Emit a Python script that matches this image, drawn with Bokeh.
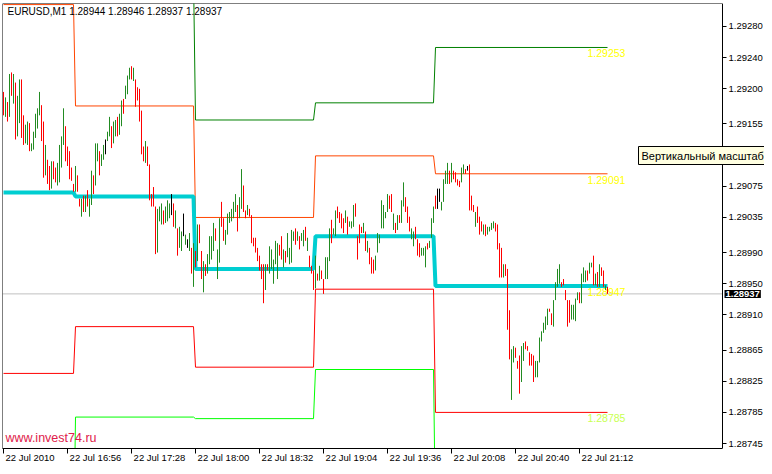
from bokeh.plotting import figure
from bokeh.models import (Range1d, FixedTicker, NumeralTickFormatter, Span, Label, LinearAxis)
from bokeh.core.properties import value
from bokeh.embed import file_html
from bokeh.resources import INLINE

# ---------------- data ----------------
symbol = "EURUSD,M1"
last_ohlc = [1.28944, 1.28946, 1.28937, 1.28937]
bid = 1.28937

# one-minute bars from 22 Jul 2010 16:24 (bar index = minutes since 16:24)
high = [
    1.29196, 1.29189, 1.29183, 1.29219, 1.29221, 1.29219, 1.29208, 1.29191, 1.29212, 1.29212,
    1.29166, 1.29154, 1.29158, 1.29156, 1.29130, 1.29145, 1.29168, 1.29175, 1.29196, 1.29179,
    1.29158, 1.29128, 1.29109, 1.29101, 1.29107, 1.29107, 1.29099, 1.29105, 1.29128, 1.29139,
    1.29175, 1.29152, 1.29126, 1.29120, 1.29099, 1.29078, 1.29101, 1.29089, 1.29059, 1.29059,
    1.29063, 1.29063, 1.29070, 1.29059, 1.29095, 1.29089, 1.29130, 1.29130, 1.29120, 1.29116,
    1.29128, 1.29135, 1.29145, 1.29164, 1.29152, 1.29158, 1.29160, 1.29164, 1.29168, 1.29185,
    1.29187, 1.29204, 1.29217, 1.29227, 1.29229, 1.29227, 1.29212, 1.29202, 1.29200, 1.29172,
    1.29126, 1.29133, 1.29126, 1.29103, 1.29065, 1.29074, 1.29049, 1.29046, 1.29049, 1.29053,
    1.29044, 1.29049, 1.29057, 1.29053, 1.29065, 1.29053, 1.29044, 1.29021, 1.29023, 1.29017,
    1.29040, 1.29013, 1.29007, 1.29015, 1.28996, 1.29002, 1.28992, 1.29026, 1.29026, 1.28992,
    1.28979, 1.28975, 1.28988, 1.29011, 1.29011, 1.29028, 1.29021, 1.28994, 1.29034, 1.29055,
    1.29034, 1.29019, 1.29040, 1.29042, 1.29046, 1.29055, 1.29065, 1.29051, 1.29061, 1.29097,
    1.29076, 1.29044, 1.29051, 1.29046, 1.29038, 1.29009, 1.29009, 1.28996, 1.28986, 1.28975,
    1.28975, 1.28975, 1.28975, 1.28998, 1.28994, 1.28981, 1.29005, 1.29002, 1.29000, 1.29011,
    1.28994, 1.28992, 1.29015, 1.28996, 1.29019, 1.29017, 1.29021, 1.29017, 1.29011, 1.29015,
    1.29019, 1.29023, 1.29009, 1.28986, 1.28973, 1.28967, 1.28986, 1.28963, 1.28973, 1.28967,
    1.28956, 1.28984, 1.28984, 1.29021, 1.29032, 1.29021, 1.29044, 1.29049, 1.29042, 1.29040,
    1.29034, 1.29044, 1.29036, 1.29030, 1.29030, 1.29051, 1.29053, 1.29011, 1.29026, 1.29023,
    1.29028, 1.29017, 1.29005, 1.28996, 1.28984, 1.28981, 1.28986, 1.29015, 1.29013, 1.29057,
    1.29051, 1.29042, 1.29065, 1.29063, 1.29065, 1.29040, 1.29028, 1.29038, 1.29038, 1.29057,
    1.29080, 1.29061, 1.29049, 1.29036, 1.29021, 1.29017, 1.29023, 1.29007, 1.29002, 1.28996,
    1.28996, 1.28998, 1.29002, 1.29005, 1.29034, 1.29049, 1.29063, 1.29072, 1.29072, 1.29055,
    1.29084, 1.29095, 1.29105, 1.29095, 1.29105, 1.29095, 1.29093, 1.29084, 1.29082, 1.29099,
    1.29103, 1.29097, 1.29101, 1.29103, 1.29063, 1.29051, 1.29042, 1.29049, 1.29036, 1.29030,
    1.29026, 1.29026, 1.29023, 1.29023, 1.29028, 1.29030, 1.29028, 1.29026, 1.29002, 1.28996,
    1.28975, 1.28975, 1.28969, 1.28916, 1.28866, 1.28870, 1.28868, 1.28851, 1.28858, 1.28870,
    1.28874, 1.28876, 1.28870, 1.28862, 1.28860, 1.28858, 1.28851, 1.28851, 1.28881, 1.28889,
    1.28900, 1.28908, 1.28918, 1.28918, 1.28912, 1.28929, 1.28952, 1.28969, 1.28975, 1.28952,
    1.28956, 1.28942, 1.28929, 1.28929, 1.28923, 1.28923, 1.28931, 1.28939, 1.28939, 1.28963,
    1.28971, 1.28967, 1.28967, 1.28977, 1.28977, 1.28986, 1.28963, 1.28965, 1.28975, 1.28971,
    1.28967, 1.28948, 1.28946,
]
low = [
    1.29166, 1.29164, 1.29158, 1.29164, 1.29191, 1.29181, 1.29135, 1.29139, 1.29156, 1.29137,
    1.29128, 1.29130, 1.29128, 1.29120, 1.29120, 1.29122, 1.29137, 1.29149, 1.29166, 1.29133,
    1.29086, 1.29089, 1.29078, 1.29070, 1.29072, 1.29084, 1.29080, 1.29076, 1.29080, 1.29099,
    1.29128, 1.29107, 1.29101, 1.29084, 1.29082, 1.29068, 1.29068, 1.29068, 1.29049, 1.29036,
    1.29042, 1.29042, 1.29049, 1.29036, 1.29051, 1.29065, 1.29076, 1.29107, 1.29089, 1.29101,
    1.29109, 1.29116, 1.29133, 1.29139, 1.29124, 1.29130, 1.29139, 1.29139, 1.29141, 1.29152,
    1.29168, 1.29187, 1.29193, 1.29212, 1.29212, 1.29210, 1.29177, 1.29185, 1.29158, 1.29116,
    1.29107, 1.29105, 1.29101, 1.29057, 1.29049, 1.29049, 1.28988, 1.28990, 1.29030, 1.29026,
    1.29026, 1.29028, 1.29030, 1.29034, 1.29038, 1.29023, 1.29021, 1.28986, 1.28996, 1.28992,
    1.29011, 1.29000, 1.28996, 1.28992, 1.28963, 1.28946, 1.28971, 1.28979, 1.29002, 1.28956,
    1.28939, 1.28960, 1.28963, 1.28975, 1.28981, 1.28992, 1.29005, 1.28956, 1.28977, 1.29023,
    1.29005, 1.29000, 1.29013, 1.29028, 1.29030, 1.29034, 1.29042, 1.29017, 1.29034, 1.29046,
    1.29042, 1.29034, 1.29038, 1.29036, 1.29002, 1.28998, 1.28990, 1.28979, 1.28967, 1.28956,
    1.28925, 1.28942, 1.28967, 1.28963, 1.28969, 1.28950, 1.28975, 1.28956, 1.28986, 1.28981,
    1.28971, 1.28977, 1.28984, 1.28975, 1.28977, 1.29005, 1.29000, 1.29005, 1.28994, 1.29005,
    1.28998, 1.29005, 1.28992, 1.28971, 1.28963, 1.28942, 1.28944, 1.28954, 1.28954, 1.28956,
    1.28937, 1.28956, 1.28956, 1.28979, 1.29002, 1.29013, 1.29011, 1.29034, 1.29028, 1.29021,
    1.29015, 1.29028, 1.29013, 1.29023, 1.29021, 1.29023, 1.29036, 1.28981, 1.29002, 1.29015,
    1.29015, 1.28992, 1.28990, 1.28975, 1.28963, 1.28963, 1.28967, 1.28990, 1.29002, 1.29021,
    1.29021, 1.29034, 1.29042, 1.29046, 1.29042, 1.29019, 1.29015, 1.29019, 1.29028, 1.29028,
    1.29049, 1.29042, 1.29028, 1.29017, 1.29007, 1.28998, 1.29007, 1.28986, 1.28984, 1.28986,
    1.28986, 1.28971, 1.28994, 1.28996, 1.29009, 1.29028, 1.29046, 1.29046, 1.29055, 1.29044,
    1.29055, 1.29078, 1.29078, 1.29078, 1.29080, 1.29084, 1.29080, 1.29076, 1.29074, 1.29080,
    1.29091, 1.29091, 1.29095, 1.29044, 1.29044, 1.29042, 1.29023, 1.29028, 1.29013, 1.29017,
    1.29013, 1.29011, 1.29013, 1.29017, 1.29019, 1.29021, 1.29017, 1.28994, 1.28958, 1.28958,
    1.28958, 1.28960, 1.28891, 1.28853, 1.28801, 1.28849, 1.28855, 1.28841, 1.28809, 1.28824,
    1.28851, 1.28866, 1.28864, 1.28845, 1.28845, 1.28824, 1.28830, 1.28830, 1.28849, 1.28876,
    1.28887, 1.28891, 1.28897, 1.28914, 1.28897, 1.28895, 1.28929, 1.28946, 1.28950, 1.28946,
    1.28948, 1.28929, 1.28895, 1.28900, 1.28904, 1.28904, 1.28902, 1.28929, 1.28925, 1.28925,
    1.28952, 1.28952, 1.28954, 1.28963, 1.28971, 1.28948, 1.28948, 1.28946, 1.28946, 1.28960,
    1.28946, 1.28942, 1.28937,
]
# u = up bar, d = down bar, n = unchanged
direction = "".join([
    "dudududuud", "duuduuuuud", "duddudduuu", "uddddduddu", "duduuduudu",
    "unuuduuduu", "duuududddd", "duddddduuu", "duuunduduu", "nunudududd",
    "uduuuuduud", "duuuuuuduu", "dduddddddd", "duduuuuudd", "uduuuududu",
    "ududddudud", "duuuduuddd", "duduuudddd", "ududdduuuu", "uuuddududu",
    "uddduudddu", "uuduuudnnu", "uuududdddu", "udnddduddd", "uduuuudddd",
    "uddduudddu", "uddddduuuu", "uuudduuuud", "dddduuuudu", "uuduududud",
    "dud",
])

# hourly pivot levels (bar index where each hour begins: 16:24, 17:00, 18:00, 19:00, 20:00)
hour_start = [0, 36, 96, 156, 216]
pivot = [1.29067, 1.29062, 1.28969, 1.29011, 1.28947]
r1 = [1.29308, 1.29178, 1.29035, 1.29114, 1.29091]
r2 = [1.29540, 1.29345, 1.29160, 1.29182, 1.29253]
s1 = [1.28835, 1.28895, 1.28843, 1.28943, 1.28785]
s2 = [1.28594, 1.28779, 1.28777, 1.28840, 1.28641]

time_ticks = [0, 32, 64, 96, 128, 160, 192, 224, 256, 288]
time_labels = ["22 Jul 2010", "22 Jul 16:56", "22 Jul 17:28", "22 Jul 18:00", "22 Jul 18:32",
               "22 Jul 19:04", "22 Jul 19:36", "22 Jul 20:08", "22 Jul 20:40", "22 Jul 21:12"]
price_ticks = [1.28745, 1.28785, 1.28825, 1.28865, 1.28910, 1.28950, 1.28990, 1.29035,
               1.29075, 1.29155, 1.29200, 1.29240, 1.29280]

# ---------------- figure ----------------
FONT = "Liberation Sans"
n = len(high)
idx = list(range(n))
bar_color = {"u": "#228b22", "d": "#ff0000", "n": "#000000"}
colors = [bar_color[c] for c in direction]

W, H = 764, 466
BL, BT, BB = 2, 3, 18          # borders around the frame
FW = W - BL                    # frame covers chart + price scale
PX_PER_BAR = 2
SCALE_W = 42                   # width of the price scale strip
x0, x1 = -0.5, FW / PX_PER_BAR - 0.5
axis_x = x1 - SCALE_W / PX_PER_BAR      # data x of the price-scale line
y0, y1 = 1.287387, 1.293094

p = figure(width=W, height=H, x_range=Range1d(x0, x1), y_range=Range1d(y0, y1),
           output_backend="svg", toolbar_location=None, y_axis_location="right",
           min_border_left=BL, min_border_top=BT, min_border_right=0, min_border_bottom=BB,
           background_fill_color="white", border_fill_color="white")
p.grid.visible = False
p.outline_line_color = None

# price scale: a real axis pinned at the chart's right edge
ya = p.yaxis[0]
ya.fixed_location = axis_x
ya.ticker = FixedTicker(ticks=price_ticks)
ya.formatter = NumeralTickFormatter(format="0.00000")
ya.major_tick_in = 0
ya.major_tick_out = 4
ya.minor_tick_line_color = None
ya.major_label_standoff = 2
ya.major_label_text_font = FONT
ya.major_label_text_font_size = "9.5px"
ya.major_label_text_color = "black"
ya.axis_line_color = "black"

# time axis: tick marks only
xa = p.xaxis[0]
xa.ticker = FixedTicker(ticks=time_ticks)
xa.bounds = (x0, axis_x)
xa.major_label_overrides = {t: "" for t in time_ticks}
xa.major_label_text_font_size = "0px"
xa.major_tick_in = 0
xa.major_tick_out = 5
xa.minor_tick_line_color = None
xa.major_label_standoff = 0
xa.axis_line_color = "black"

# time labels: MetaTrader writes them to the right of each tick mark
LABEL_PX = 9.5
char_em = {" ": 0.278, ":": 0.278, "J": 0.5, "u": 0.556, "l": 0.222}
def text_width(s):
    return sum(char_em.get(c, 0.556) for c in s) * LABEL_PX
label_pos = [t + round((text_width(s) / 2 + 2) / PX_PER_BAR * 4) / 4
             for t, s in zip(time_ticks, time_labels)]
xl = LinearAxis(ticker=FixedTicker(ticks=label_pos),
                major_label_overrides=dict(zip(label_pos, time_labels)),
                axis_line_color=None, major_tick_line_color=None, minor_tick_line_color=None,
                major_label_standoff=-8, major_label_text_font=FONT,
                major_label_text_font_size=f"{LABEL_PX}px", major_label_text_color="black")
p.add_layout(xl, "below")

# chart border (left and top)
p.add_layout(Span(location=x0, dimension="height", line_color="black", line_width=1))
p.segment(x0=[x0], y0=[y1], x1=[axis_x], y1=[y1], line_color="black", line_width=1)

# bid line
p.segment(x0=[x0], y0=[bid], x1=[axis_x], y1=[bid], line_color="#c0c0c0", line_width=1)

# pivot levels as step lines
def level_path(levels):
    xs, ys = [], []
    for k, v in enumerate(levels):
        a = hour_start[k]
        b = hour_start[k + 1] - 1 if k + 1 < len(hour_start) else n - 1
        xs += [a, b]
        ys += [v, v]
    return xs, ys

for levels, color, width in [(r2, "#008000", 1), (s2, "#00ff00", 1), (r1, "#ff4500", 1),
                             (s1, "#ff0000", 1), (pivot, "#00ced1", 4)]:
    xs, ys = level_path(levels)
    p.line(xs, ys, line_color=color, line_width=width)

# level value labels
lab_levels = [r2[-1], r1[-1], pivot[-1], s1[-1]]
lab_colors = ["#ffff00", "#ffff00", "#ffff00", "#c8ff50"]
p.text(x=[n - 11] * len(lab_levels), y=lab_levels,
       text=[f"{v:.5f}" for v in lab_levels], text_color=lab_colors,
       text_font=value(FONT), text_font_size=value("10.5px"),
       text_baseline="top", y_offset=2)

# bars
p.segment(x0=idx, y0=low, x1=idx, y1=high, line_color=colors, line_width=1)

# header (anchored to the top edge of the chart)
header = f"{symbol}  " + " ".join(f"{v:.5f}" for v in last_ohlc)
p.add_layout(Label(x=5, x_units="screen", y=y1, y_offset=-2, text=header,
                   text_baseline="top", text_font=FONT, text_font_size="10px",
                   text_color="black"))

# watermark
p.add_layout(Label(x=3, y=11, x_units="screen", y_units="screen", text="www.invest74.ru",
                   text_baseline="middle", text_font=FONT, text_font_size="12.5px",
                   text_color="#e0204a"))

# current price marker on the price scale
p.add_layout(Label(x=axis_x, y=bid, x_offset=2, text=f"{bid:.5f}",
                   text_baseline="middle", text_font=FONT, text_font_size="9.5px",
                   text_font_style="bold", text_color="white",
                   background_fill_color="black", padding=1))

# tooltip over the price scale
p.add_layout(Label(x=axis_x, x_offset=-84, y=y1, y_offset=-152,
                   text="Вертикальный масштаб", text_baseline="middle",
                   text_font=FONT, text_font_size="11px", text_color="black",
                   background_fill_color="#ffffe1", border_line_color="black",
                   padding=3))

open("out.html", "w").write(file_html(p, INLINE))
